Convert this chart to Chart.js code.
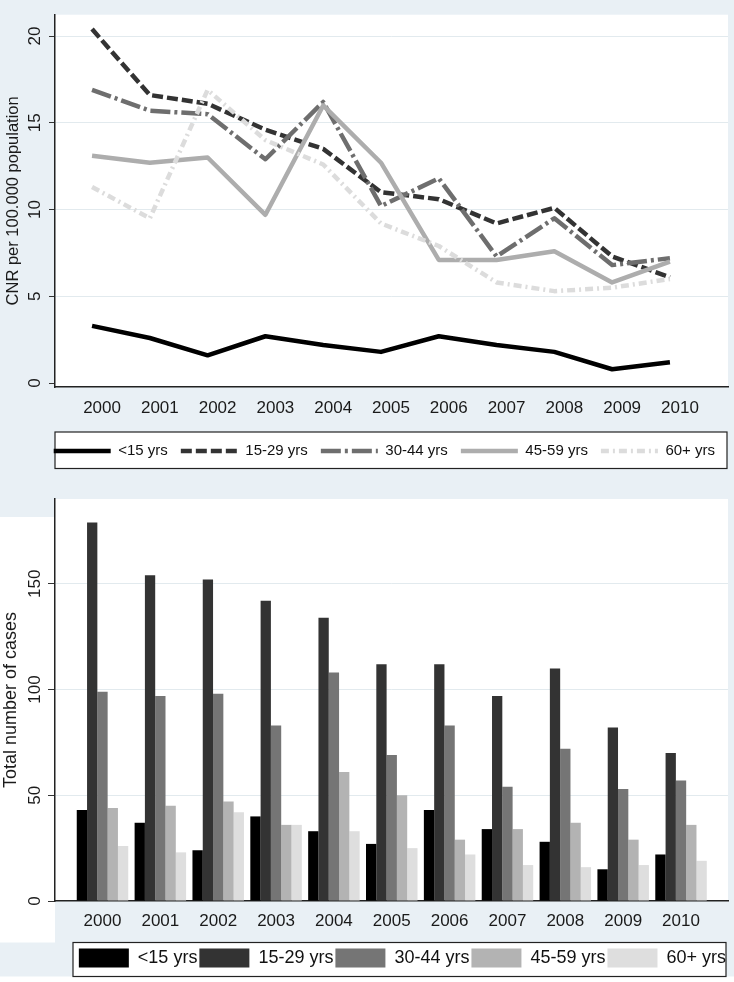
<!DOCTYPE html>
<html>
<head>
<meta charset="utf-8">
<script src="https://cdn.jsdelivr.net/npm/chart.js@4.4.1/dist/chart.umd.min.js"></script>
<style>
  html, body { margin: 0; padding: 0; background: #fff; }
  #wrap { position: relative; width: 734px; height: 982px; }
  canvas { position: absolute; left: 0; display: block; }
</style>
</head>
<body>
<div id="wrap">
  <canvas id="lineChart" width="734" height="490" style="top:0"></canvas>
  <canvas id="barChart" width="734" height="492" style="top:490px"></canvas>
</div>
<script>
// Dados
const years = [2000, 2001, 2002, 2003, 2004, 2005, 2006, 2007, 2008, 2009, 2010];
const groups = ['<15 yrs', '15-29 yrs', '30-44 yrs', '45-59 yrs', '60+ yrs'];

// CNR per 100.000 population
const cnrU15 = [3.3, 2.6, 1.6, 2.7, 2.2, 1.8, 2.7, 2.2, 1.8, 0.8, 1.2];
const cnr1529 = [20.4, 16.6, 16.1, 14.6, 13.5, 11.0, 10.6, 9.2, 10.1, 7.3, 6.1];
const cnr3044 = [16.9, 15.7, 15.5, 12.9, 16.2, 10.2, 11.8, 7.3, 9.5, 6.8, 7.2];
const cnr4559 = [13.1, 12.7, 13.0, 9.7, 16.0, 12.7, 7.1, 7.1, 7.6, 5.8, 7.0];
const cnr60 = [11.3, 9.5, 16.9, 14.0, 12.6, 9.2, 7.9, 5.8, 5.3, 5.5, 6.0];

// Total number of cases
const casesU15 = [43, 37, 24, 40, 33, 27, 43, 34, 28, 15, 22];
const cases1529 = [179, 154, 152, 142, 134, 112, 112, 97, 110, 82, 70];
const cases3044 = [99, 97, 98, 83, 108, 69, 83, 54, 72, 53, 57];
const cases4559 = [44, 45, 47, 36, 61, 50, 29, 34, 37, 29, 36];
const cases60 = [26, 23, 42, 36, 33, 25, 22, 17, 16, 17, 19];

const lineTicksY = [0, 5, 10, 15, 20];
const barTicksY = [0, 50, 100, 150];

Chart.defaults.font.family = "'Liberation Sans', Arial, sans-serif";
Chart.defaults.color = '#1a1a1a';

const BLUE = '#e9f0f5';
const GRID = '#e2eaee';
const AXIS = '#222';

const lineColors = ['#000000', '#333333', '#6e6e6e', '#adadad', '#dcdcdc'];
const lineDashes = [[], [11, 4], [20, 4, 3, 4], [], [8, 4, 2, 4]];
const barColors = ['#000000', '#333333', '#757575', '#b3b3b3', '#dedede'];

const toXY = vals => years.map((yr, i) => ({ x: yr, y: vals[i] }));
const gridColor = ctx => (ctx.tick && ctx.tick.value === 0) ? 'rgba(0,0,0,0)' : GRID;

// Fundo azul-claro do Stata + área branca e caixa da legenda
const fundoLinha = {
    id: 'fundoLinha',
    beforeDraw(chart) {
        const { ctx, chartArea: a, legend } = chart;
        ctx.save();
        ctx.fillStyle = BLUE;
        ctx.fillRect(0, 0, chart.width, chart.height);
        ctx.fillStyle = '#fff';
        ctx.fillRect(a.left, a.top, a.right - a.left, a.bottom - a.top);
        const t = legend.top + 1.5, b = legend.bottom;
        ctx.fillRect(a.left, t, a.right - 1 - a.left, b - t);
        ctx.strokeStyle = AXIS;
        ctx.lineWidth = 1.2;
        ctx.strokeRect(a.left, t, a.right - 1 - a.left, b - t);
        ctx.restore();
    }
};

const fundoBarras = {
    id: 'fundoBarras',
    beforeDraw(chart) {
        const { ctx, chartArea: a, legend } = chart;
        ctx.save();
        ctx.fillStyle = BLUE;
        ctx.fillRect(0, 0, chart.width, chart.height);
        ctx.fillStyle = '#fff';
        ctx.fillRect(a.left, a.top, a.right - a.left, a.bottom - a.top);
        ctx.fillRect(0, 27, a.left, legend.top - 31);
        ctx.fillRect(0, legend.bottom - 1, chart.width, chart.height);
        const t = legend.top - 4, b = legend.bottom - 1;
        const l = a.left + 18, r = a.right - 2;
        ctx.fillRect(l, t, r - l, b - t);
        ctx.strokeStyle = AXIS;
        ctx.lineWidth = 1.2;
        ctx.strokeRect(l, t, r - l, b - t);
        ctx.restore();
    }
};

function initLine() {
    const series = [cnrU15, cnr1529, cnr3044, cnr4559, cnr60];
    new Chart(document.getElementById('lineChart'), {
        type: 'line',
        data: {
            datasets: series.map((vals, i) => ({
                label: groups[i],
                data: toXY(vals),
                borderColor: lineColors[i],
                borderWidth: 4.5,
                borderDash: lineDashes[i],
                borderJoinStyle: 'round',
                pointRadius: 0,
                tension: 0,
                fill: false,
                order: series.length - 1 - i
            }))
        },
        options: {
            responsive: false,
            animation: false,
            layout: { padding: { top: 4, right: 6, bottom: 21.5, left: 0 } },
            plugins: {
                tooltip: { enabled: false },
                legend: {
                    position: 'bottom',
                    align: 'end',
                    labels: {
                        usePointStyle: true,
                        pointStyleWidth: 57,
                        padding: 13,
                        font: { size: 15 },
                        generateLabels: chart => chart.data.datasets.map((ds, i) => ({
                            text: ds.label,
                            fillStyle: 'rgba(0,0,0,0)',
                            strokeStyle: ds.borderColor,
                            lineWidth: ds.borderWidth,
                            lineDash: ds.borderDash,
                            lineCap: 'butt',
                            pointStyle: 'line',
                            fontColor: '#111',
                            hidden: false,
                            datasetIndex: i
                        }))
                    }
                }
            },
            scales: {
                x: {
                    type: 'linear',
                    min: 1999.359,
                    max: 2011.005,
                    afterBuildTicks: s => { s.ticks = years.map(v => ({ value: v })); },
                    afterFit: s => { s.height = 43.5; },
                    grid: { display: false, drawTicks: false },
                    border: { display: true, color: AXIS, width: 1.5 },
                    ticks: {
                        autoSkip: false, maxRotation: 0, labelOffset: 10, padding: 10.8,
                        font: { size: 17 }, color: '#1a1a1a',
                        callback: v => String(v)
                    }
                },
                y: {
                    min: -0.224,
                    max: 21.23,
                    afterBuildTicks: s => { s.ticks = lineTicksY.map(v => ({ value: v })); },
                    afterFit: s => { s.width = 55; },
                    grid: { color: gridColor, tickLength: 6, tickColor: '#333', lineWidth: 1 },
                    border: { color: AXIS, width: 1.5 },
                    ticks: {
                        minRotation: 90, maxRotation: 90, crossAlign: 'center', padding: 4.5,
                        font: { size: 17 }, color: '#1a1a1a',
                        callback: v => String(v)
                    },
                    title: {
                        display: true,
                        text: 'CNR per 100.000 population',
                        font: { size: 16.5 },
                        color: '#1a1a1a',
                        padding: { top: 3.6, bottom: 0 }
                    }
                }
            }
        },
        plugins: [fundoLinha]
    });
}

function initBar() {
    const series = [casesU15, cases1529, cases3044, cases4559, cases60];
    new Chart(document.getElementById('barChart'), {
        type: 'bar',
        data: {
            datasets: series.map((vals, i) => ({
                label: groups[i],
                data: toXY(vals),
                backgroundColor: barColors[i],
                borderWidth: 0,
                barPercentage: 1,
                categoryPercentage: 0.89
            }))
        },
        options: {
            responsive: false,
            animation: false,
            layout: { padding: { top: 8, right: 6, bottom: 4.5, left: 0 } },
            plugins: {
                tooltip: { enabled: false },
                legend: {
                    position: 'bottom',
                    align: 'end',
                    labels: {
                        boxWidth: 50,
                        boxHeight: 19,
                        padding: 2,
                        font: { size: 18 },
                        color: '#111'
                    }
                }
            },
            scales: {
                x: {
                    type: 'linear',
                    offset: false,
                    min: 1999.179,
                    max: 2010.812,
                    afterBuildTicks: s => { s.ticks = years.map(v => ({ value: v })); },
                    afterFit: s => { s.height = 45.5; },
                    grid: { display: false, drawTicks: false },
                    border: { display: true, color: AXIS, width: 1.5 },
                    ticks: {
                        autoSkip: false, maxRotation: 0, padding: 10.5,
                        font: { size: 17 }, color: '#1a1a1a',
                        callback: v => String(v)
                    }
                },
                y: {
                    min: 0,
                    max: 190.1,
                    afterBuildTicks: s => { s.ticks = barTicksY.map(v => ({ value: v })); },
                    afterFit: s => { s.width = 55; },
                    grid: { color: gridColor, tickLength: 7, tickColor: '#333', lineWidth: 1 },
                    border: { color: AXIS, width: 1.5 },
                    ticks: {
                        minRotation: 90, maxRotation: 90, crossAlign: 'center', padding: -1.2,
                        font: { size: 17 }, color: '#1a1a1a',
                        callback: v => String(v)
                    },
                    title: {
                        display: true,
                        text: 'Total number of cases',
                        font: { size: 18 },
                        color: '#1a1a1a',
                        padding: { top: 0, bottom: 0 }
                    }
                }
            }
        },
        plugins: [fundoBarras]
    });
}

document.addEventListener('DOMContentLoaded', () => {
    initLine();
    initBar();
});
</script>
</body>
</html>
